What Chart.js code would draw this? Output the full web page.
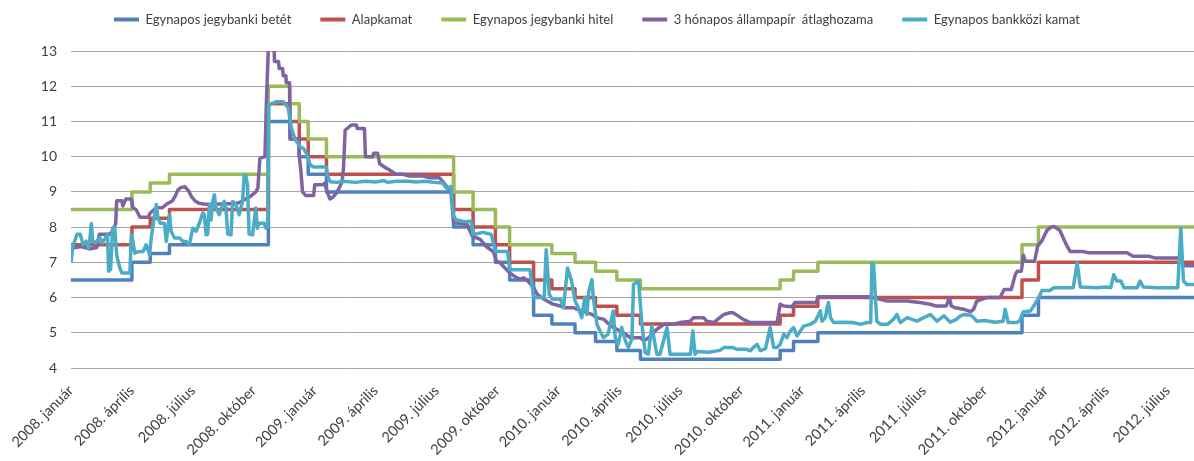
<!DOCTYPE html>
<html><head><meta charset="utf-8">
<script src="https://cdn.jsdelivr.net/npm/chart.js@4/dist/chart.umd.min.js"></script>
<style>html,body{margin:0;padding:0;background:#fff;}#wrap{width:1194px;height:461px;}</style>
</head><body><div id="wrap"><canvas id="c" width="1194" height="461"></canvas></div>
<script>
// x values are months since 2008. január 1
const tickLabels = ['2008. január','2008. április','2008. július','2008. október',
  '2009. január','2009. április','2009. július','2009. október',
  '2010. január','2010. április','2010. július','2010. október',
  '2011. január','2011. április','2011. július','2011. október',
  '2012. január','2012. április','2012. július'];

const seriesNames = ['Egynapos jegybanki betét','Alapkamat','Egynapos jegybanki hitel','3 hónapos állampapír  átlaghozama','Egynapos bankközi kamat'];

// policy-rate change dates (months) and rates
const stepX = [0, 3.0, 3.9, 4.85, 9.72, 10.78, 11.24, 11.68, 12.58, 18.84, 19.8, 20.9, 21.6, 22.78, 23.68, 24.82, 25.83, 26.88, 28.04, 34.92, 35.58, 36.78, 46.83, 47.64, 55.3];
const depositRate = [6.5, 7.0, 7.25, 7.5, 11.0, 10.5, 10.0, 9.5, 9.0, 8.0, 7.5, 7.0, 6.5, 5.5, 5.25, 5.0, 4.75, 4.5, 4.25, 4.5, 4.75, 5.0, 5.5, 6.0, 6.0];
const baseRate = [7.5, 8.0, 8.25, 8.5, 11.5, 11.0, 10.5, 10.0, 9.5, 8.5, 8.0, 7.5, 7.0, 6.5, 6.25, 6.0, 5.75, 5.5, 5.25, 5.5, 5.75, 6.0, 6.5, 7.0, 7.0];
const lendingRate = [8.5, 9.0, 9.25, 9.5, 12.0, 11.5, 11.0, 10.5, 10.0, 9.0, 8.5, 8.0, 7.5, 7.5, 7.25, 7.0, 6.75, 6.5, 6.25, 6.5, 6.75, 7.0, 7.5, 8.0, 8.0];

// 3-month T-bill average yield [month, value]
const tbillPoints = [[0,7.4],[0.5,7.45],[0.9,7.38],[1.27,7.42],[1.4,7.8],[1.9,7.8],[2.07,7.9],[2.2,8.1],[2.25,8.75],[2.5,8.75],[2.55,8.6],[2.7,8.8],[2.97,8.8],[3.05,8.55],[3.2,8.5],[3.4,8.28],[3.8,8.28],[3.9,8.4],[4.2,8.55],[4.5,8.55],[4.7,8.65],[5.0,8.75],[5.15,8.9],[5.26,9.05],[5.4,9.12],[5.6,9.15],[5.8,9.02],[5.95,8.85],[6.1,8.75],[6.3,8.68],[6.6,8.65],[7.1,8.65],[7.6,8.66],[8.0,8.66],[8.3,8.7],[8.6,8.8],[8.85,8.88],[9.1,9.0],[9.2,9.1],[9.3,9.95],[9.55,10.0],[9.62,11.5],[9.75,13.6],[9.98,13.6],[10.02,12.7],[10.22,12.7],[10.25,12.5],[10.42,12.5],[10.45,12.3],[10.58,12.3],[10.6,12.1],[10.76,12.1],[10.8,10.5],[11.2,10.5],[11.24,10.0],[11.32,9.6],[11.4,9.0],[11.55,8.9],[11.95,8.9],[12.0,9.2],[12.4,9.2],[12.5,9.25],[12.62,9.0],[12.75,8.8],[12.9,8.85],[13.05,8.95],[13.2,9.1],[13.35,9.3],[13.42,9.7],[13.5,10.75],[13.8,10.9],[14.05,10.9],[14.1,10.8],[14.45,10.8],[14.5,10.0],[14.85,10.0],[14.9,10.1],[15.1,10.1],[15.2,9.8],[15.45,9.7],[15.75,9.6],[16.0,9.5],[16.35,9.5],[16.65,9.45],[17.35,9.45],[17.65,9.4],[18.15,9.4],[18.3,9.3],[18.5,9.15],[18.7,9.05],[18.84,8.12],[19.5,8.08],[19.75,7.75],[20.15,7.65],[20.45,7.45],[20.8,7.3],[20.95,7.03],[21.15,6.98],[21.35,6.85],[21.6,6.7],[21.85,6.6],[22.1,6.52],[22.3,6.56],[22.5,6.47],[22.78,6.28],[22.95,6.1],[23.3,5.95],[23.45,5.9],[23.7,5.82],[24.1,5.76],[24.35,5.71],[24.75,5.71],[24.9,5.67],[25.25,5.6],[25.65,5.52],[25.9,5.43],[26.25,5.38],[26.4,5.29],[26.7,5.15],[27.05,5.05],[27.3,4.96],[27.55,4.86],[28.05,4.86],[28.2,4.77],[28.45,4.86],[28.7,5.01],[28.85,5.1],[29.2,5.24],[29.65,5.24],[30.0,5.29],[30.5,5.33],[30.65,5.43],[31.15,5.43],[31.3,5.33],[31.65,5.29],[31.95,5.43],[32.15,5.52],[32.45,5.57],[32.6,5.57],[32.85,5.48],[33.1,5.38],[33.45,5.29],[34.77,5.29],[34.92,5.81],[35.1,5.76],[35.5,5.74],[35.65,5.86],[36.7,5.86],[36.78,6.02],[39.35,6.02],[39.65,5.98],[40.2,5.9],[41.15,5.9],[41.8,5.86],[42.3,5.81],[42.6,5.76],[43.1,5.76],[43.25,6.0],[43.35,5.76],[43.55,5.71],[43.95,5.67],[44.3,5.6],[44.45,5.67],[44.6,5.9],[44.85,5.95],[45.1,6.0],[45.75,6.0],[45.95,6.23],[46.3,6.23],[46.5,6.65],[46.6,6.75],[46.8,6.75],[46.9,7.2],[47.0,7.03],[47.45,7.03],[47.6,7.46],[47.8,7.6],[48.05,7.9],[48.25,8.0],[48.4,8.02],[48.7,7.9],[48.9,7.64],[49.05,7.46],[49.2,7.31],[49.8,7.31],[50.1,7.27],[52.0,7.27],[52.3,7.17],[53.1,7.17],[53.4,7.12],[54.5,7.12],[54.65,7.03],[54.8,6.9],[55.3,6.9]];

// overnight interbank rate [month, value]
const interbankPoints = [[0,7.0],[0.1,7.5],[0.15,7.55],[0.3,7.8],[0.45,7.8],[0.6,7.5],[0.75,7.6],[0.85,7.4],[0.92,7.6],[1.0,8.1],[1.07,7.6],[1.2,7.55],[1.42,7.7],[1.55,7.55],[1.7,7.7],[1.8,7.8],[1.85,6.75],[1.95,6.8],[2.05,7.97],[2.15,8.0],[2.25,7.2],[2.4,6.85],[2.5,6.7],[2.9,6.7],[2.97,7.78],[3.05,7.6],[3.14,7.26],[3.3,7.3],[3.55,7.31],[3.7,7.5],[3.87,7.21],[3.95,7.69],[4.12,8.35],[4.2,8.64],[4.28,8.26],[4.4,8.11],[4.6,8.11],[4.69,7.59],[4.85,8.35],[4.93,7.88],[5.1,7.69],[5.35,7.69],[5.5,7.6],[5.67,7.59],[5.83,7.5],[6.0,7.97],[6.16,7.88],[6.32,8.11],[6.49,8.4],[6.57,8.35],[6.65,7.78],[6.73,7.8],[6.81,8.64],[6.9,8.2],[6.98,8.73],[7.06,8.92],[7.14,8.54],[7.3,8.35],[7.47,8.64],[7.55,8.73],[7.63,8.54],[7.72,7.8],[7.88,7.78],[7.96,8.73],[8.12,8.64],[8.28,8.35],[8.45,8.73],[8.53,9.48],[8.61,9.45],[8.69,9.2],[8.77,7.8],[8.94,7.78],[9.1,8.54],[9.18,7.97],[9.26,8.11],[9.51,8.11],[9.6,7.97],[9.68,8.0],[9.74,11.46],[9.9,11.51],[10.1,11.56],[10.45,11.56],[10.6,11.46],[10.7,11.37],[10.78,11.08],[10.86,10.8],[11.03,10.5],[11.28,10.28],[11.45,10.23],[11.6,10.09],[11.78,9.76],[11.95,9.71],[12.58,9.71],[12.62,9.48],[12.76,9.29],[13.1,9.27],[13.4,9.3],[14.0,9.27],[14.5,9.3],[15.0,9.28],[15.4,9.32],[15.6,9.27],[16.0,9.3],[16.6,9.3],[17.0,9.28],[17.4,9.3],[17.9,9.27],[18.3,9.25],[18.5,9.1],[18.7,9.15],[18.84,8.3],[19.0,8.2],[19.4,8.15],[19.7,8.17],[19.8,7.79],[20.3,7.85],[20.7,7.79],[20.9,7.31],[21.5,7.31],[21.6,6.79],[22.6,6.79],[22.78,6.0],[23.3,6.0],[23.4,7.36],[23.55,6.09],[23.7,5.95],[24.1,5.95],[24.25,5.71],[24.45,6.84],[24.65,6.47],[24.82,5.9],[24.98,5.71],[25.15,5.43],[25.3,6.0],[25.4,5.52],[25.5,6.18],[25.65,6.51],[25.72,6.0],[25.9,5.24],[26.05,5.05],[26.22,4.86],[26.45,4.96],[26.7,5.62],[26.8,4.86],[26.95,4.67],[27.12,5.15],[27.3,4.77],[27.45,4.58],[27.62,4.82],[27.7,6.37],[27.95,6.47],[28.1,5.33],[28.27,4.44],[28.43,4.39],[28.6,5.19],[28.85,4.39],[29.0,4.39],[29.35,5.15],[29.5,4.39],[30.5,4.39],[30.62,5.05],[30.73,4.39],[30.83,4.47],[31.4,4.45],[31.95,4.5],[32.15,4.58],[32.6,4.58],[32.8,4.53],[33.25,4.53],[33.45,4.49],[33.6,4.58],[33.78,4.67],[33.95,4.49],[34.2,4.55],[34.43,5.15],[34.6,4.58],[34.77,4.58],[34.92,4.67],[35.1,4.96],[35.25,4.86],[35.42,5.05],[35.58,5.15],[35.75,4.91],[36.08,5.19],[36.4,5.24],[36.65,5.33],[36.9,5.62],[36.98,5.33],[37.15,5.43],[37.23,5.71],[37.3,5.86],[37.4,5.43],[37.55,5.29],[38.0,5.3],[38.5,5.29],[38.87,5.24],[39.2,5.29],[39.38,5.29],[39.44,6.98],[39.52,6.94],[39.68,5.33],[39.85,5.24],[40.2,5.24],[40.5,5.38],[40.67,5.52],[40.84,5.29],[41.17,5.43],[41.66,5.33],[41.99,5.43],[42.32,5.52],[42.65,5.33],[42.98,5.48],[43.3,5.3],[43.6,5.38],[43.8,5.48],[44.0,5.52],[44.3,5.5],[44.45,5.43],[44.6,5.33],[45.0,5.35],[45.5,5.3],[45.9,5.33],[46.0,5.67],[46.15,5.29],[46.55,5.29],[46.7,5.33],[46.9,5.6],[47.25,5.62],[47.5,5.85],[47.65,6.0],[47.82,6.2],[48.2,6.2],[48.4,6.28],[49.35,6.28],[49.55,6.98],[49.7,6.3],[50.5,6.28],[51.0,6.3],[51.2,6.28],[51.35,6.65],[51.5,6.47],[51.7,6.47],[51.85,6.28],[52.5,6.28],[52.65,6.47],[52.8,6.3],[53.5,6.28],[54.5,6.28],[54.65,7.97],[54.78,6.47],[54.95,6.37],[55.3,6.37]];

const colors = ['#4F81BD','#C0504D','#9BBB59','#8064A2','#4BACC6'];

Chart.defaults.font.family = 'Lato, "Open Sans", sans-serif';

const stepData = ys => stepX.map((x, i) => ({x: x, y: ys[i]}));
const pairData = arr => arr.map(p => ({x: p[0], y: p[1]}));

new Chart(document.getElementById('c'), {
  type: 'line',
  data: {
    datasets: [
      {label: seriesNames[0], data: stepData(depositRate), borderColor: colors[0], backgroundColor: colors[0], stepped: true, order: 4},
      {label: seriesNames[1], data: stepData(baseRate), borderColor: colors[1], backgroundColor: colors[1], stepped: true, order: 3},
      {label: seriesNames[2], data: stepData(lendingRate), borderColor: colors[2], backgroundColor: colors[2], stepped: true, order: 2},
      {label: seriesNames[3], data: pairData(tbillPoints), borderColor: colors[3], backgroundColor: colors[3], order: 1},
      {label: seriesNames[4], data: pairData(interbankPoints), borderColor: colors[4], backgroundColor: colors[4], order: 0}
    ]
  },
  options: {
    responsive: false,
    animation: false,
    elements: {point: {radius: 0, hoverRadius: 0}, line: {borderWidth: 3.5, tension: 0, borderJoinStyle: 'round'}},
    layout: {padding: {top: -16, left: 0, right: 0, bottom: 0}},
    plugins: {
      tooltip: {enabled: false},
      legend: {
        position: 'top',
        labels: {
          boxWidth: 25, boxHeight: 4, padding: 29, color: '#404040', font: {size: 13},
          sort: (a, b) => a.datasetIndex - b.datasetIndex,
          generateLabels: chart => Chart.defaults.plugins.legend.labels.generateLabels(chart)
            .map(it => Object.assign(it, {lineWidth: 0, fillStyle: it.strokeStyle}))
        }
      }
    },
    scales: {
      x: {
        type: 'linear', min: 0, max: 55.3,
        grid: {display: false}, border: {display: false},
        afterFit: s => { s.height = 93; },
        ticks: {
          stepSize: 3, autoSkip: false, includeBounds: false,
          minRotation: 45, maxRotation: 45, padding: 6,
          color: '#404040', font: {size: 14.5},
          callback: v => {
            const i = Math.round(v / 3);
            return Math.abs(v - i * 3) < 0.01 && tickLabels[i] ? tickLabels[i] : '';
          }
        }
      },
      spacer: {
        type: 'linear', position: 'top', axis: 'x', min: 0, max: 1,
        grid: {display: false}, border: {display: false},
        ticks: {display: false},
        afterFit: s => { s.height = 15; }
      },
      y: {
        min: 4, max: 13,
        afterFit: s => { s.width = 71; },
        grid: {color: '#a6a6a6', lineWidth: 1, drawTicks: false},
        border: {display: false},
        ticks: {stepSize: 1, padding: 14, color: '#404040', font: {size: 14}}
      }
    }
  }
});
</script>
</body></html>
